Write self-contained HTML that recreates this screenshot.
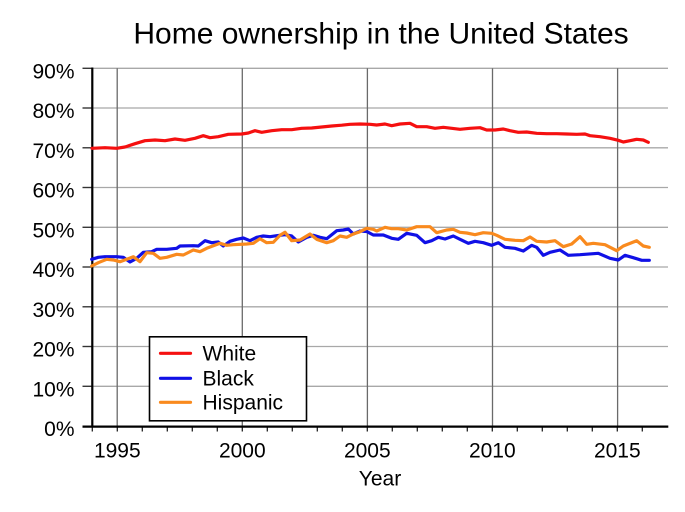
<!DOCTYPE html>
<html>
<head>
<meta charset="utf-8">
<style>
html,body{margin:0;padding:0;background:#fff;}
svg{display:block;}
text{font-family:"Liberation Sans",Arial,Helvetica,sans-serif;fill:#000;}
</style>
</head>
<body>
<svg width="685" height="512" viewBox="0 0 685 512" xmlns="http://www.w3.org/2000/svg">
<rect x="0" y="0" width="685" height="512" fill="#fff"/>
<!-- title -->
<text x="381" y="43.5" font-size="30" text-anchor="middle">Home ownership in the United States</text>

<!-- horizontal gridlines -->
<g stroke="#a8a8a8" stroke-width="1.3">
<line x1="82.5" y1="68.3" x2="668" y2="68.3"/>
<line x1="82.5" y1="108" x2="668" y2="108"/>
<line x1="82.5" y1="147.8" x2="668" y2="147.8"/>
<line x1="82.5" y1="187.5" x2="668" y2="187.5"/>
<line x1="82.5" y1="227.3" x2="668" y2="227.3"/>
<line x1="82.5" y1="267" x2="668" y2="267"/>
<line x1="82.5" y1="306.8" x2="668" y2="306.8"/>
<line x1="82.5" y1="346.5" x2="668" y2="346.5"/>
<line x1="82.5" y1="386.3" x2="668" y2="386.3"/>
</g>
<!-- left ticks darker -->
<g stroke="#333" stroke-width="1.3">
<line x1="82.5" y1="68.3" x2="92" y2="68.3"/>
<line x1="82.5" y1="108" x2="92" y2="108"/>
<line x1="82.5" y1="147.8" x2="92" y2="147.8"/>
<line x1="82.5" y1="187.5" x2="92" y2="187.5"/>
<line x1="82.5" y1="227.3" x2="92" y2="227.3"/>
<line x1="82.5" y1="267" x2="92" y2="267"/>
<line x1="82.5" y1="306.8" x2="92" y2="306.8"/>
<line x1="82.5" y1="346.5" x2="92" y2="346.5"/>
<line x1="82.5" y1="386.3" x2="92" y2="386.3"/>
<line x1="82.5" y1="426.5" x2="92" y2="426.5"/>
</g>
<!-- vertical gridlines -->
<g stroke="#6a6a6a" stroke-width="1.3">
<line x1="117.2" y1="68.3" x2="117.2" y2="426"/>
<line x1="242.3" y1="68.3" x2="242.3" y2="426"/>
<line x1="367.4" y1="68.3" x2="367.4" y2="426"/>
<line x1="492.5" y1="68.3" x2="492.5" y2="426"/>
<line x1="617.6" y1="68.3" x2="617.6" y2="426"/>
</g>
<!-- x ticks -->
<g stroke="#222" stroke-width="1.3">
<line x1="92.3" y1="426" x2="92.3" y2="431.5"/>
<line x1="117.3" y1="426" x2="117.3" y2="431.5"/>
<line x1="142.3" y1="426" x2="142.3" y2="431.5"/>
<line x1="167.3" y1="426" x2="167.3" y2="431.5"/>
<line x1="192.3" y1="426" x2="192.3" y2="431.5"/>
<line x1="217.3" y1="426" x2="217.3" y2="431.5"/>
<line x1="242.3" y1="426" x2="242.3" y2="431.5"/>
<line x1="267.3" y1="426" x2="267.3" y2="431.5"/>
<line x1="292.3" y1="426" x2="292.3" y2="431.5"/>
<line x1="317.3" y1="426" x2="317.3" y2="431.5"/>
<line x1="342.3" y1="426" x2="342.3" y2="431.5"/>
<line x1="367.3" y1="426" x2="367.3" y2="431.5"/>
<line x1="392.3" y1="426" x2="392.3" y2="431.5"/>
<line x1="417.3" y1="426" x2="417.3" y2="431.5"/>
<line x1="442.3" y1="426" x2="442.3" y2="431.5"/>
<line x1="467.3" y1="426" x2="467.3" y2="431.5"/>
<line x1="492.3" y1="426" x2="492.3" y2="431.5"/>
<line x1="517.3" y1="426" x2="517.3" y2="431.5"/>
<line x1="542.3" y1="426" x2="542.3" y2="431.5"/>
<line x1="567.3" y1="426" x2="567.3" y2="431.5"/>
<line x1="592.3" y1="426" x2="592.3" y2="431.5"/>
<line x1="617.3" y1="426" x2="617.3" y2="431.5"/>
<line x1="642.3" y1="426" x2="642.3" y2="431.5"/>
</g>
<!-- axes -->
<line x1="92.3" y1="67.5" x2="92.3" y2="427.5" stroke="#000" stroke-width="2.2"/>
<line x1="82.5" y1="426.6" x2="668.3" y2="426.6" stroke="#000" stroke-width="2.2"/>

<!-- y labels -->
<g font-size="21" text-anchor="end">
<text x="74.5" y="78.3">90%</text>
<text x="74.5" y="118">80%</text>
<text x="74.5" y="157.8">70%</text>
<text x="74.5" y="197.5">60%</text>
<text x="74.5" y="237.3">50%</text>
<text x="74.5" y="277">40%</text>
<text x="74.5" y="316.8">30%</text>
<text x="74.5" y="356.5">20%</text>
<text x="74.5" y="396.3">10%</text>
<text x="74.5" y="436">0%</text>
</g>
<!-- x labels -->
<g font-size="21" text-anchor="middle">
<text x="117.3" y="457.5">1995</text>
<text x="242.3" y="457.5">2000</text>
<text x="367.3" y="457.5">2005</text>
<text x="492.3" y="457.5">2010</text>
<text x="617.3" y="457.5">2015</text>
<text x="380" y="485.5">Year</text>
</g>

<!-- series -->
<g fill="none" stroke-width="3.2" stroke-linejoin="round" stroke-linecap="round">
<polyline stroke="#f51010" points="92,148.3 105,147.7 116.7,148.3 125,147 135,143.7 145,140.7 155,140 165,140.7 175,139 185,140.3 195,138.3 203.3,135.7 210,137.7 218.3,136.7 228.3,134.3 241.7,134 248.3,133 255,130.7 261.7,132.3 271.7,130.7 281.7,129.7 291.7,129.7 301.7,128.3 311.7,128 321.7,127 331.7,126 341.7,125.2 350,124.3 360,124 370,124.3 376.7,125 385,124 391.7,125.7 400,124 410,123.3 416.7,126.7 426.7,126.7 435,128.3 443.3,127.3 451.7,128.3 460,129.3 470,128.3 480,127.7 486.7,130 495,130 503.3,129 510,130.7 518.3,132.3 526.7,132 536.7,133.3 546.7,133.7 556.7,133.7 566.7,134 576.7,134.3 585,134 590,135.7 600,136.7 610,138.3 618.3,140.3 623.3,142 630,140.7 636.7,139.3 643.3,140 648.3,142.3"/>
<polyline stroke="#1010e6" points="91.7,259.3 98.3,257.3 105,256.7 116.7,256.7 123.3,257.3 130,262 136.7,258.3 143.3,252.3 151.7,251.7 156.7,249.3 166.7,249.3 176.7,248.3 180,246 193.3,245.7 198.3,246 205,240.7 211.7,242.7 218.3,242 223.3,246 230,241.3 236.7,239.3 243.3,238 250,240.7 256.7,237.3 263.3,236 270,236.7 276.7,235.7 285,234.7 291.7,236 298.3,242 306.7,237.3 313.3,235.3 320,237.3 326.7,238.7 336.7,230.7 343.3,230 348.3,229 353.3,234 360,231 366.7,231.5 373.3,235 383.3,235 391.7,238.3 398.3,239.3 406.7,233.3 416.7,235.3 425,242.7 431.7,240.7 438.3,237.3 445,239 453.3,236 460,239.3 468.3,243.3 475,241.3 483.3,242.7 491.7,245.3 498.3,242.7 505,247.3 515,248.3 523.3,251 531.7,245.3 536.7,247.3 543.3,255.3 550,252.3 560,250 568.3,255.3 580,254.7 598.3,253.3 610,258.3 618.3,260 625,255.3 633.3,257.7 641.7,260.3 649.3,260.3"/>
<polyline stroke="#f98a1e" points="91.7,266 98.3,262.7 106.7,259.3 113.3,260 120,261.7 126.7,259.3 133.3,256.7 140,261.7 146.7,252.7 153.3,253.3 160,258.3 166.7,257.3 176.7,254.3 183.3,255 193.3,250 200,251.7 206.7,248.3 220,243.3 226.7,245.3 233.3,244.7 246.7,244 253.3,243.3 260,238.7 266.7,242.7 273.3,242.3 280,235.3 285,232.3 291.7,240.7 300,240 310,234 316.7,239.3 326.7,242.7 333.3,240.7 340,236 346.7,237.3 353.3,234 360,231.7 366.7,228.3 373.3,229.3 376.7,231 385,227.3 391.7,228.7 398.3,228.7 406.7,230 416.7,226.7 430,226.7 436.7,232.7 446.7,230 453.3,229.3 460,232.3 466.7,233 475,234.7 483.3,232.7 491.7,233.3 496.7,235.3 505,239.3 515,240.3 523.3,240.7 530,237 536.7,241.3 546.7,242 555,240.7 563.3,246.7 571.7,244 580,236.7 586.7,244.3 593.3,243.3 605,244.7 616.7,250.7 623.3,246 636.7,240.7 643.3,246 649.3,247.3"/>
</g>

<!-- legend -->
<rect x="149.5" y="336.8" width="157" height="84" fill="#fff" stroke="#000" stroke-width="1.6"/>
<g stroke-width="3.2" stroke-linecap="round">
<line x1="160.5" y1="353.3" x2="190.5" y2="353.3" stroke="#f51010"/>
<line x1="160.5" y1="378.3" x2="190.5" y2="378.3" stroke="#1010e6"/>
<line x1="160.5" y1="402.3" x2="190.5" y2="402.3" stroke="#f98a1e"/>
</g>
<g font-size="21">
<text x="202.5" y="360.5">White</text>
<text x="202.5" y="385.5">Black</text>
<text x="202.5" y="409.5">Hispanic</text>
</g>
</svg>
</body>
</html>
